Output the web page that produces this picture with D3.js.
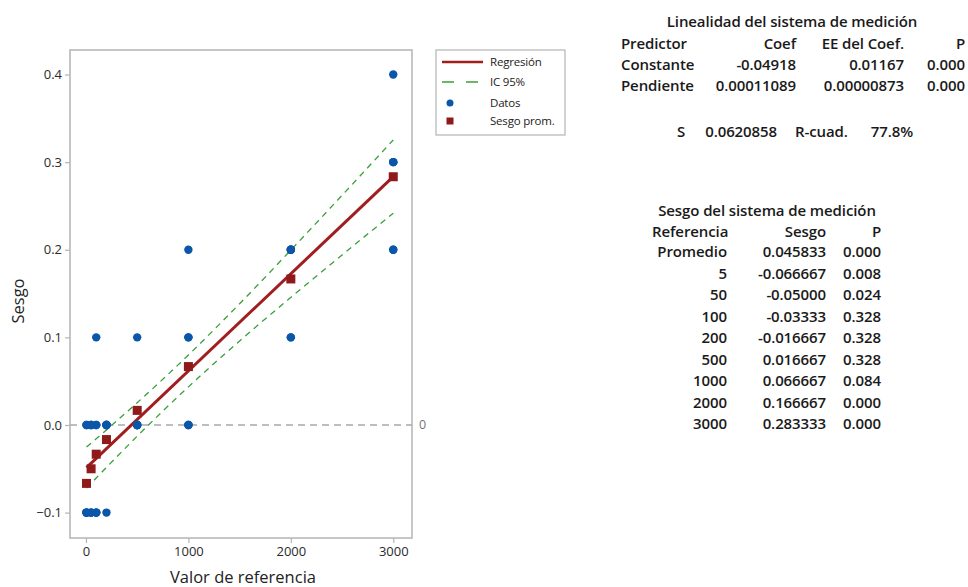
<!DOCTYPE html>
<html><head><meta charset="utf-8">
<script src="https://cdn.jsdelivr.net/npm/d3@7"></script>
<style>
html,body{margin:0;padding:0;background:#fff;}
svg{display:block;}
</style></head>
<body>
<script>
// ---------- data ----------
const references = [5, 50, 100, 200, 500, 1000, 2000, 3000];
const biasData = [
  [0.0, 0.0, -0.1, -0.1, -0.1, -0.1],
  [0.0, 0.0, 0.0, -0.1, -0.1, -0.1],
  [0.1, 0.0, 0.0, -0.1, -0.1, -0.1],
  [0.0, 0.0, 0.0, 0.0, 0.0, -0.1],
  [0.1, 0.0, 0.0, 0.0, 0.0, 0.0],
  [0.2, 0.1, 0.1, 0.0, 0.0, 0.0],
  [0.2, 0.2, 0.2, 0.2, 0.1, 0.1],
  [0.4, 0.3, 0.3, 0.3, 0.2, 0.2]
];
const avgBias = [-0.066667, -0.05, -0.03333, -0.016667, 0.016667, 0.066667, 0.166667, 0.283333];
const regConstant = -0.04918;
const regSlope = 0.00011089;
const ciX = [5, 50, 100, 200, 500, 1000, 1500, 2000, 2500, 3000];
const ciLow = [-0.0721, -0.0666, -0.0605, -0.0484, -0.0128, 0.0435, 0.0959, 0.1456, 0.1940, 0.2417];
const ciHigh = [-0.0252, -0.0207, -0.0157, -0.0056, 0.0254, 0.0799, 0.1384, 0.1996, 0.2621, 0.3253];
const xTicks = [0, 1000, 2000, 3000];
const yTicks = [-0.1, 0.0, 0.1, 0.2, 0.3, 0.4];
const legendLabels = ["Regresión", "IC 95%", "Datos", "Sesgo prom."];

const linTitle = "Linealidad del sistema de medición";
const linHeader = ["Predictor", "Coef", "EE del Coef.", "P"];
const linRows = [
  ["Constante", "-0.04918", "0.01167", "0.000"],
  ["Pendiente", "0.00011089", "0.00000873", "0.000"]
];
const fitStats = ["S", "0.0620858", "R-cuad.", "77.8%"];
const biasTitle = "Sesgo del sistema de medición";
const biasHeader = ["Referencia", "Sesgo", "P"];
const biasRows = [
  ["Promedio", "0.045833", "0.000"],
  ["5", "-0.066667", "0.008"],
  ["50", "-0.05000", "0.024"],
  ["100", "-0.03333", "0.328"],
  ["200", "-0.016667", "0.328"],
  ["500", "0.016667", "0.328"],
  ["1000", "0.066667", "0.084"],
  ["2000", "0.166667", "0.000"],
  ["3000", "0.283333", "0.000"]
];

// ---------- layout ----------
const W = 968, H = 587;
const plot = {left: 70, right: 412, top: 50, bottom: 538};
const blue = "#0a56a8", red = "#8f1a1a", green = "#3a9e3a";
const font = "'Open Sans', 'Noto Sans', sans-serif";

const svg = d3.select("body").append("svg").attr("width", W).attr("height", H)
  .style("font-family", font);

const x = d3.scaleLinear().domain([-156, 3183]).range([plot.left, plot.right]);
const y = d3.scaleLinear().domain([-0.129, 0.428]).range([plot.bottom, plot.top]);

// frame
svg.append("rect").attr("x", plot.left).attr("y", plot.top)
  .attr("width", plot.right - plot.left).attr("height", plot.bottom - plot.top)
  .attr("fill", "none").attr("stroke", "#b4b4b4").attr("stroke-width", 1.5);

// axes
const xAxis = svg.append("g").attr("transform", `translate(0,${plot.bottom})`)
  .call(d3.axisBottom(x).tickValues(xTicks).tickFormat(d3.format("d")).tickSize(5).tickPadding(4));
const yAxis = svg.append("g").attr("transform", `translate(${plot.left},0)`)
  .call(d3.axisLeft(y).tickValues(yTicks).tickFormat(d3.format(".1f")).tickSize(5).tickPadding(3));
[xAxis, yAxis].forEach(g => {
  g.select(".domain").remove();
  g.selectAll(".tick line").attr("stroke", "#b4b4b4").attr("stroke-width", 1.2);
  g.selectAll(".tick text").attr("fill", "#2a2a2a").style("font-size", "13px").style("font-family", font);
});

// axis titles
svg.append("text").attr("x", 243).attr("y", 583)
  .attr("text-anchor", "middle").attr("fill", "#222").style("font-size", "16.5px").text("Valor de referencia");
svg.append("text").attr("transform", `translate(24,301) rotate(-90)`)
  .attr("text-anchor", "middle").attr("fill", "#222").style("font-size", "16.5px").text("Sesgo");

// zero reference line
svg.append("line").attr("x1", plot.left).attr("x2", plot.right).attr("y1", y(0)).attr("y2", y(0))
  .attr("stroke", "#a8a8a8").attr("stroke-width", 1.5).attr("stroke-dasharray", "7,5");
svg.append("text").attr("x", 419).attr("y", y(0) + 4.5).attr("fill", "#777")
  .style("font-size", "12.5px").text("0");

// CI bands
const ciLine = arr => d3.line().x((d, i) => x(ciX[i])).y((d) => y(d)).curve(d3.curveMonotoneX)(arr);
[ciLow, ciHigh].forEach(arr => {
  svg.append("path").attr("d", ciLine(arr)).attr("fill", "none")
    .attr("stroke", green).attr("stroke-width", 1.3).attr("stroke-dasharray", "6,5");
});

// regression line
const regX = [references[0], references[references.length - 1]];
svg.append("line")
  .attr("x1", x(regX[0])).attr("y1", y(regConstant + regSlope * regX[0]))
  .attr("x2", x(regX[1])).attr("y2", y(regConstant + regSlope * regX[1]))
  .attr("stroke", "#a01e1e").attr("stroke-width", 3);

// data points
const pts = [];
references.forEach((r, i) => biasData[i].forEach(v => pts.push({r, v})));
svg.append("g").selectAll("circle").data(pts).join("circle")
  .attr("cx", d => x(d.r)).attr("cy", d => y(d.v)).attr("r", 4.2).attr("fill", blue);

// average bias squares
const sq = 9;
svg.append("g").selectAll("rect").data(references).join("rect")
  .attr("x", (d) => x(d) - sq / 2).attr("y", (d, i) => y(avgBias[i]) - sq / 2)
  .attr("width", sq).attr("height", sq).attr("fill", red);

// legend
const lg = svg.append("g");
lg.append("rect").attr("x", 436).attr("y", 50).attr("width", 129).attr("height", 85)
  .attr("fill", "#fff").attr("stroke", "#b4b4b4").attr("stroke-width", 1.2);
const ly = [62, 82, 103, 121];
lg.append("line").attr("x1", 442).attr("x2", 483).attr("y1", ly[0]).attr("y2", ly[0])
  .attr("stroke", "#a01e1e").attr("stroke-width", 2.5);
lg.append("line").attr("x1", 442).attr("x2", 483).attr("y1", ly[1]).attr("y2", ly[1])
  .attr("stroke", green).attr("stroke-width", 1.3).attr("stroke-dasharray", "12,12");
lg.append("circle").attr("cx", 450).attr("cy", ly[2]).attr("r", 3.5).attr("fill", blue);
lg.append("rect").attr("x", 446.5).attr("y", ly[3] - 3.5).attr("width", 7).attr("height", 7).attr("fill", red);
lg.selectAll("text.lab").data(legendLabels).join("text").attr("class", "lab")
  .attr("x", 490).attr("y", (d, i) => ly[i] + 4).attr("fill", "#222")
  .style("font-size", "11.5px").style("letter-spacing", "-0.2px").text(d => d);

// ---------- tables ----------
const tfs = "15px", tw = 600, tc = "#1a1a1a";
function txt(s, xx, yy, anchor) {
  svg.append("text").attr("x", xx).attr("y", yy).attr("text-anchor", anchor || "start")
    .attr("fill", tc).style("font-size", tfs).style("font-weight", tw)
    .style("letter-spacing", "-0.1px").text(s);
}
txt(linTitle, 792, 27, "middle");
const linCols = [{x: 621, a: "start"}, {x: 796, a: "end"}, {x: 904, a: "end"}, {x: 965, a: "end"}];
[linHeader, ...linRows].forEach((row, ri) => {
  const yy = [49, 70, 91][ri];
  row.forEach((c, ci) => txt(c, linCols[ci].x, yy, linCols[ci].a));
});
const fsX = [{x: 677, a: "start"}, {x: 777, a: "end"}, {x: 795, a: "start"}, {x: 913, a: "end"}];
fitStats.forEach((c, ci) => txt(c, fsX[ci].x, 137, fsX[ci].a));

txt(biasTitle, 767, 216, "middle");
const bCols = [{x: 727, a: "end"}, {x: 826, a: "end"}, {x: 881, a: "end"}];
biasHeader.forEach((c, ci) => txt(c, ci === 0 ? 652 : bCols[ci].x, 237, ci === 0 ? "start" : bCols[ci].a));
biasRows.forEach((row, ri) => {
  const yy = 257 + ri * 21.5;
  row.forEach((c, ci) => txt(c, bCols[ci].x, yy, bCols[ci].a));
});
</script>
</body></html>
